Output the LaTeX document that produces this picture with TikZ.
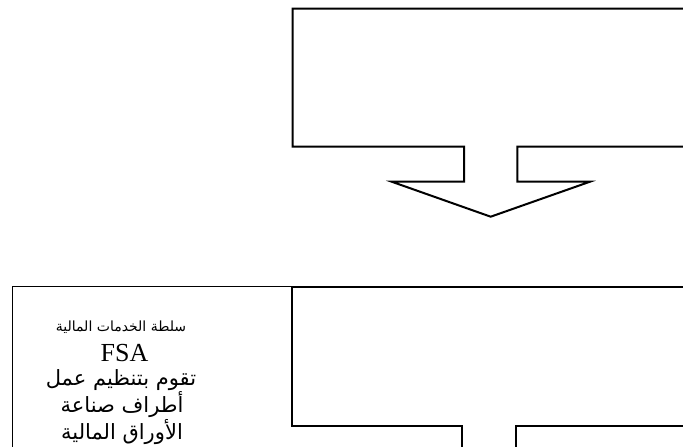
\documentclass[tikz,border=0pt]{standalone}
\usepackage{fontspec}
\setmainfont{Liberation Serif}
\newfontfamily\arabicfont[Script=Arabic]{DejaVu Sans}
\TeXXeTstate=1

\begin{document}
\begin{tikzpicture}[x=1pt,y=1pt]
\tikzstyle{every node}+=[inner sep=0pt]
\tikzstyle{callout}=[draw=black,line width=2pt,fill=white,line join=miter]
\tikzstyle{plainbox}=[draw=black,line width=1.4pt]
\useasboundingbox (0,0) rectangle (683,-447);
\clip (0,0) rectangle (683,-447);
% left text box
\draw [plainbox] (12.3,-460) -- (12.3,-286.7) -- (292,-286.7);
% upper callout
\coordinate (tip1) at (490.7,-216.7);
\draw [callout] (292.7,-8.7) -- (688.7,-8.7) -- (688.7,-146.5) -- (517.3,-146.5) -- (517.3,-181.7)
  -- (590,-181.7) -- (tip1) -- (391.7,-181.7) -- (464,-181.7) -- (464,-146.5) -- (292.7,-146.5) -- cycle;
% lower callout
\draw [callout] (291.7,-287.3) -- (686.3,-287.3) -- (686.3,-425.7) -- (515.7,-425.7) -- (515.7,-470)
  -- (462.3,-470) -- (462.3,-425.7) -- (291.7,-425.7) -- cycle;
% text
\node (fsaname) at (121,-327) {\fontsize{14}{16}\arabicfont\beginR سلطة الخدمات المالية\endR};
\node (fsa) at (124.5,-353) {\fontsize{26}{28}\selectfont FSA};
\node (line1) at (121,-380) {\fontsize{21}{24}\arabicfont\beginR تقوم بتنظيم عمل\endR};
\node (line2) at (122,-405) {\fontsize{21}{24}\arabicfont\beginR أطراف صناعة\endR};
\node (line3) at (122,-432) {\fontsize{21}{24}\arabicfont\beginR الأوراق المالية\endR};
\end{tikzpicture}
\end{document}
